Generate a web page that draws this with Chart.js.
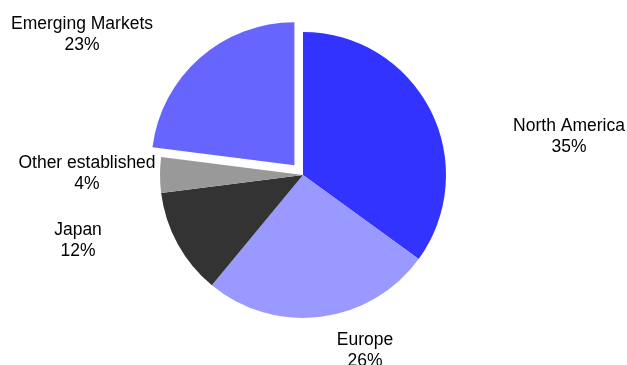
<!DOCTYPE html>
<html>
<head>
<meta charset="utf-8">
<script src="https://cdn.jsdelivr.net/npm/chart.js@4.4.1/dist/chart.umd.min.js"></script>
<style>
  html, body { margin: 0; padding: 0; background: #fff; }
  #wrap { width: 627px; height: 365px; }
</style>
</head>
<body>
<div id="wrap"><canvas id="regionChart"></canvas></div>
<script>
// regional split, clockwise from 12 o'clock
var regions = ['North America', 'Europe', 'Japan', 'Other established', 'Emerging Markets'];
var shares = [35, 26, 12, 4, 23];
var sliceColors = ['#3333ff', '#9999ff', '#333333', '#999999', '#6666ff'];
// arc offset is scaled down by 4 when drawn, so 52 -> ~13px pull-out
var sliceOffsets = [0, 0, 0, 0, 52];

// label anchors (middle of the first line), relative to the pie centre
var labelAnchors = [[266, -50], [62, 164], [-225, 54], [-216, -13], [-221, -152]];

var pieLabels = {
    id: 'pieLabels',
    afterDraw: function (chart) {
        var ctx = chart.ctx;
        var arc = chart.getDatasetMeta(0).data[0];
        var cx = arc.x, cy = arc.y;
        ctx.save();
        ctx.font = '17.5px "Liberation Sans", Arial, sans-serif';
        ctx.fillStyle = '#000';
        ctx.textAlign = 'center';
        ctx.textBaseline = 'alphabetic';
        regions.forEach(function (name, i) {
            var x = cx + labelAnchors[i][0];
            var y = cy + labelAnchors[i][1] + 6;
            ctx.fillText(name, x, y);
            ctx.fillText(shares[i] + '%', x, y + 21);
        });
        ctx.restore();
    }
};

var ctx = document.getElementById('regionChart').getContext('2d');
var regionChart = new Chart(ctx, {
    type: 'pie',
    data: {
        labels: regions,
        datasets: [{
            data: shares,
            backgroundColor: sliceColors,
            borderWidth: 0,
            offset: sliceOffsets
        }]
    },
    options: {
        responsive: true,
        maintainAspectRatio: false,
        animation: false,
        radius: 143,
        layout: { padding: { left: 0, right: 21, top: 0, bottom: 15 } },
        plugins: {
            legend: { display: false },
            tooltip: { enabled: false }
        }
    },
    plugins: [pieLabels]
});
</script>
</body>
</html>
